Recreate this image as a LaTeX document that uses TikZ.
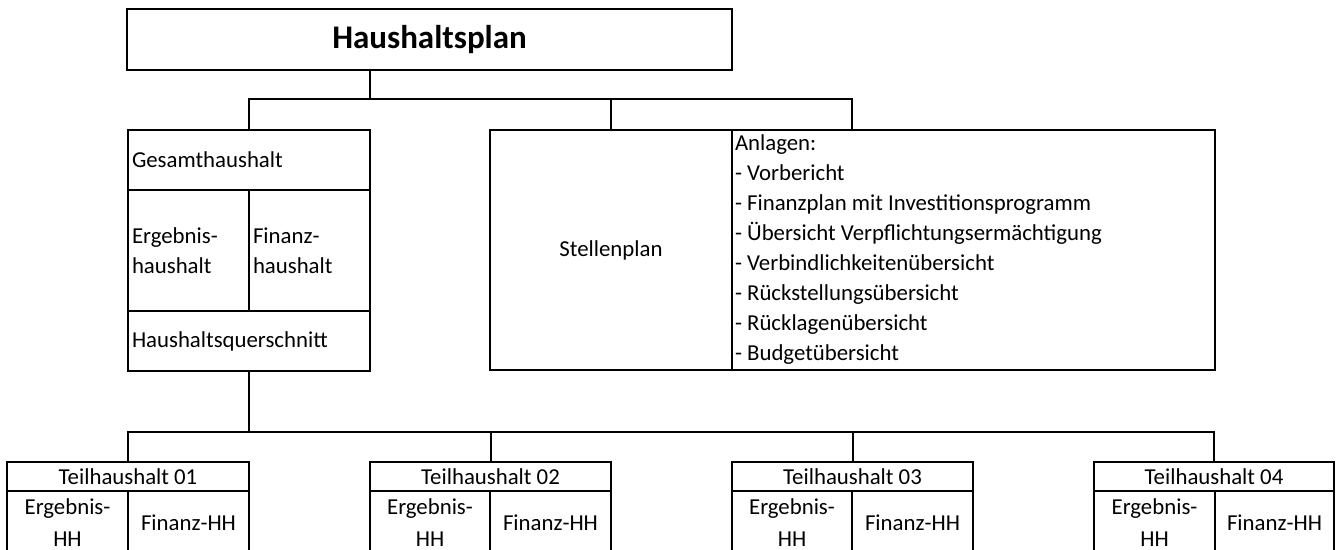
\documentclass[tikz,border=0pt]{standalone}
\usepackage{fontspec}
\setmainfont{Carlito}
\begin{document}
\begin{tikzpicture}[x=1pt,y=-1pt,
  cell/.style={draw, line width=2pt, inner sep=0pt, outer sep=0pt, font=\fontsize{22.8}{30}\selectfont},
  lcell/.style={cell, inner xsep=4pt, align=flush left},
  conn/.style={line width=2pt, line join=miter}]
\useasboundingbox (0,0) rectangle (1338,549);
\clip (0,0) rectangle (1338,549);
\fill[white] (0,0) rectangle (1338,549);
% title
\node[cell, minimum width=605pt, minimum height=61pt, font=\fontsize{33}{36}\selectfont\bfseries] (title) at (429.5,39.5) {Haushaltsplan};
% Gesamthaushalt block
\node[lcell, minimum width=242pt, minimum height=60pt, text width=234pt] (gh) at (249,160) {Gesamthaushalt};
\node[lcell, minimum width=121pt, minimum height=121pt, text width=113pt] (erg) at (188.5,250.5) {Ergebnis-\\haushalt};
\node[lcell, minimum width=121pt, minimum height=121pt, text width=113pt] (fin) at (309.5,250.5) {Finanz-\\haushalt};
\node[lcell, minimum width=242pt, minimum height=60pt, text width=234pt] (hq) at (249,341) {Haushaltsquerschnitt};
% Stellenplan and Anlagen
\node[cell, minimum width=242pt, minimum height=240pt] (stellen) at (611,250) {Stellenplan};
\node[lcell, inner xsep=3pt, minimum width=483pt, minimum height=240pt, text width=477pt] (anl) at (973.5,250) {Anlagen:\\
- Vorbericht\\
- Finanzplan mit Investitionsprogramm\\
- Übersicht Verpflichtungsermächtigung\\
- Verbindlichkeitenübersicht\\
- Rückstellungsübersicht\\
- Rücklagenübersicht\\
- Budgetübersicht};
% Teilhaushalte
\foreach \i/\L/\M/\R in {1/7/128/249, 2/370/490/611, 3/732/852/973, 4/1094/1215/1334} {
  \node[cell, minimum width={(\R-\L)*1pt}, minimum height=29pt] (t\i) at ({(\L+\R)/2},476.5) {Teilhaushalt 0\i};
  \node[cell, align=center, minimum width={(\M-\L)*1pt}, minimum height=64pt, font=\fontsize{22.8}{32}\selectfont] (e\i) at ({(\L+\M)/2},523) {Ergebnis-\\HH};
  \node[cell, minimum width={(\R-\M)*1pt}, minimum height=64pt] (f\i) at ({(\M+\R)/2},523) {Finanz-HH};
}
% connectors
\coordinate (bar) at (0,99);
\coordinate (bus) at (0,432);
\coordinate (anltop) at (852,130);
\draw[conn] (gh.north) -- (gh.north |- bar) -- (anltop |- bar) -- (anltop);
\draw[conn] (stellen.north) -- (stellen.north |- bar);
\draw[conn] (title.south -| gh.east) -- (gh.east |- bar);
\draw[conn] (t1.north) -- (t1.north |- bus) -- (t4.north |- bus) -- (t4.north);
\draw[conn] (t2.north) -- (t2.north |- bus);
\draw[conn] (t3.north) -- (t3.north |- bus);
\draw[conn] (hq.south) -- (hq.south |- bus);
\end{tikzpicture}
\end{document}
